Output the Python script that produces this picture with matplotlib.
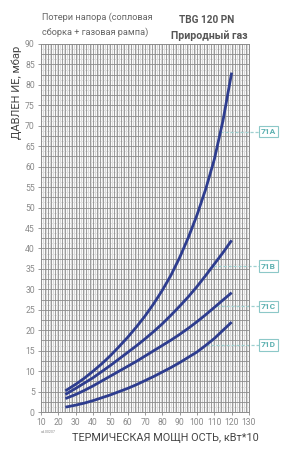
import numpy as np
import matplotlib
matplotlib.use("Agg")
import matplotlib.pyplot as plt

# Data (thermal power kW*10 vs pressure loss mbar)
power = [24, 30, 35, 40, 45, 50, 55, 60, 65, 70, 75, 80, 85, 90, 95, 100, 105, 110, 115, 120]
curve_71a = [5.2, 6.8, 8.3, 10.0, 11.8, 13.8, 16.0, 18.3, 20.8, 23.5, 26.5, 29.8,
             33.5, 37.8, 42.7, 48.2, 54.5, 61.8, 71.3, 83.0]
curve_71b = [4.3, 5.8, 7.1, 8.4, 9.9, 11.4, 13.0, 14.6, 16.2, 17.9, 19.7, 21.6,
             23.7, 25.9, 28.2, 30.7, 33.4, 36.2, 39.0, 42.0]
curve_71c = [3.3, 4.3, 5.3, 6.4, 7.6, 8.8, 10.0, 11.2, 12.4, 13.7, 15.0, 16.3,
             17.6, 19.0, 20.5, 22.1, 23.8, 25.6, 27.4, 29.2]
curve_71d = [1.2, 1.7, 2.2, 2.8, 3.5, 4.2, 5.0, 5.8, 6.7, 7.7, 8.7, 9.8,
             10.9, 12.1, 13.4, 14.7, 16.3, 18.0, 20.0, 22.0]
curve_names = ["71A", "71B", "71C", "71D"]
label_levels = [68.5, 35.7, 25.9, 16.4]

x_ticks = list(range(10, 131, 10))
y_ticks = list(range(0, 91, 5))

plt.rcParams["font.family"] = ["Roboto"]

fig = plt.figure(figsize=(3.0, 4.63), dpi=100)
ax = fig.add_axes([0.137, 0.110, 0.693, 0.795])
ax.set_xlim(10, 130)
ax.set_ylim(0, 90)

# grid
for x in np.arange(11, 130, 2):
    ax.axvline(x, color="#d9d9d9", lw=0.9, zorder=0)
for x in np.arange(12, 130, 2):
    ax.axvline(x, color="#8c8c8c", lw=0.6, zorder=1)
for y in np.arange(1.25, 90, 2.5):
    ax.axhline(y, color="#e2e2e2", lw=0.7, zorder=0)
for y in np.arange(2.5, 90, 2.5):
    ax.axhline(y, color="#8c8c8c", lw=0.6, zorder=1)

for s in ax.spines.values():
    s.set_color("#8c8c8c")
    s.set_linewidth(0.7)

ax.set_xticks(x_ticks)
ax.set_yticks(y_ticks)
ax.tick_params(labelsize=6.2, colors="#8c8c8c", length=2.5, width=0.6, pad=2)
for lab in ax.get_xticklabels() + ax.get_yticklabels():
    lab.set_color("#8a8a8a")

curves = [curve_71a, curve_71b, curve_71c, curve_71d]
for c in curves:
    ax.plot(power, c, color="#2e3d8f", lw=2.0, solid_capstyle="butt",
            solid_joinstyle="round", zorder=3)

# curve labels with dashed leaders
teal = "#5bb0b0"
for name, c, lev in zip(curve_names, curves, label_levels):
    x0 = np.interp(lev, c, power)
    ax.plot([x0, 135.5], [lev, lev], color="#9fd0d0", lw=0.9, ls=(0, (2.5, 1.5)),
            clip_on=False, zorder=2)
    ax.text(141.3, lev, name, color=teal, fontsize=6, fontweight="bold",
            ha="center", va="center", clip_on=False,
            bbox=dict(boxstyle="square,pad=0.25", fc="white", ec="#8cc8c8", lw=0.8))

fig.text(0.14, 0.963, "Потери напора (сопловая", fontsize=6.6, color="#666666",
         ha="left", va="center")
fig.text(0.14, 0.930, "сборка + газовая рампа)", fontsize=6.6, color="#666666",
         ha="left", va="center")
fig.text(0.688, 0.956, "TBG 120 PN", fontsize=7.2, color="#555555",
         fontweight="bold", ha="center", va="center")
fig.text(0.697, 0.924, "Природный газ", fontsize=7.6, color="#555555",
         fontweight="bold", ha="center", va="center")

fig.text(0.057, 0.80, "ДАВЛЕН ИЕ, мбар", fontsize=8, color="#444444",
         rotation=90, ha="center", va="center")
fig.text(0.55, 0.054, "ТЕРМИЧЕСКАЯ МОЩН ОСТЬ, кВт*10", fontsize=7.8, color="#444444",
         ha="center", va="center")
fig.text(0.135, 0.067, "ad.00207", fontsize=2.5, color="#888888",
         ha="left", va="center")

fig.savefig("out.png", dpi=100, facecolor="white")
